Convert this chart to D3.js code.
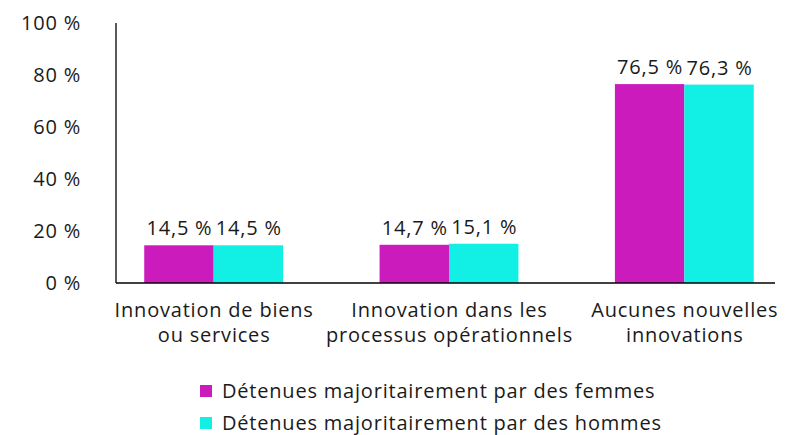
<!DOCTYPE html>
<html>
<head>
    <meta charset="utf-8">
    <script src="https://d3js.org/d3.v7.min.js"></script>
    <style>
        body { margin: 0; background: #fff; }
        text { font-family: "Open Sans", "Noto Sans", sans-serif; fill: #1a1a1a; letter-spacing: 0.8px; }
    </style>
</head>
<body>
    <svg width="800" height="435" id="mainSvg"></svg>
    <script>
        const categories = [
            ["Innovation de biens", "ou services"],
            ["Innovation dans les", "processus opérationnels"],
            ["Aucunes nouvelles", "innovations"]
        ];
        const seriesNames = [
            "Détenues majoritairement par des femmes",
            "Détenues majoritairement par des hommes"
        ];
        const femmes = [14.5, 14.7, 76.5];
        const hommes = [14.5, 15.1, 76.3];
        const yTicks = [0, 20, 40, 60, 80, 100];
        const colors = ["#cc1bbc", "#12f0e6"];

        const svg = d3.select("#mainSvg");
        const plotLeft = 116, plotBottom = 283, plotTop = 23;
        const fs = 20;

        const x = d3.scaleBand()
            .domain(d3.range(categories.length))
            .range([plotLeft, 782])
            .paddingInner(0.41)
            .paddingOuter(0.12);
        const xSub = d3.scaleBand()
            .domain([0, 1])
            .range([0, x.bandwidth()]);
        const y = d3.scaleLinear().domain([0, 100]).range([plotBottom, plotTop]);

        const fmt = v => d3.format(".1f")(v).replace(".", ",") + " %";

        // y tick labels
        svg.append("g").selectAll("text")
            .data(yTicks).join("text")
            .attr("x", 81)
            .attr("y", d => y(d) + 7)
            .attr("text-anchor", "end")
            .attr("font-size", fs)
            .text(d => d + " %");

        const series = [femmes, hommes];
        series.forEach((vals, s) => {
            svg.append("g").selectAll("rect")
                .data(vals).join("rect")
                .attr("x", (d, i) => x(i) + xSub(s))
                .attr("width", xSub.bandwidth())
                .attr("y", d => y(d))
                .attr("height", d => plotBottom - y(d))
                .attr("fill", colors[s]);
            svg.append("g").selectAll("text")
                .data(vals).join("text")
                .attr("x", (d, i) => x(i) + xSub(s) + xSub.bandwidth() / 2 + 0.5)
                .attr("y", d => y(d) - 10)
                .attr("text-anchor", "middle")
                .attr("font-size", fs)
                .text(d => fmt(d));
        });

        // axes lines
        svg.append("line")
            .attr("x1", plotLeft).attr("x2", plotLeft)
            .attr("y1", plotTop).attr("y2", plotBottom)
            .attr("stroke", "#000").attr("stroke-width", 1.3);
        svg.append("line")
            .attr("x1", plotLeft).attr("x2", 775)
            .attr("y1", plotBottom).attr("y2", plotBottom)
            .attr("stroke", "#000").attr("stroke-width", 1.3);

        // category labels
        const cat = svg.append("g").selectAll("text")
            .data(categories).join("text")
            .attr("text-anchor", "middle")
            .attr("font-size", fs);
        cat.selectAll("tspan")
            .data((d, i) => d.map(t => ({ t, i })))
            .join("tspan")
            .attr("x", d => x(d.i) + x.bandwidth() / 2 + 0.5)
            .attr("y", (d, j) => 317 + j * 25)
            .text(d => d.t);

        // legend
        const leg = svg.append("g").selectAll("g")
            .data(seriesNames).join("g")
            .attr("transform", (d, i) => `translate(200, ${385 + i * 32})`);
        leg.append("rect")
            .attr("width", 12).attr("height", 12)
            .attr("fill", (d, i) => colors[i]);
        leg.append("text")
            .attr("x", 22).attr("y", 13)
            .attr("font-size", fs)
            .text(d => d);
    </script>
</body>
</html>
